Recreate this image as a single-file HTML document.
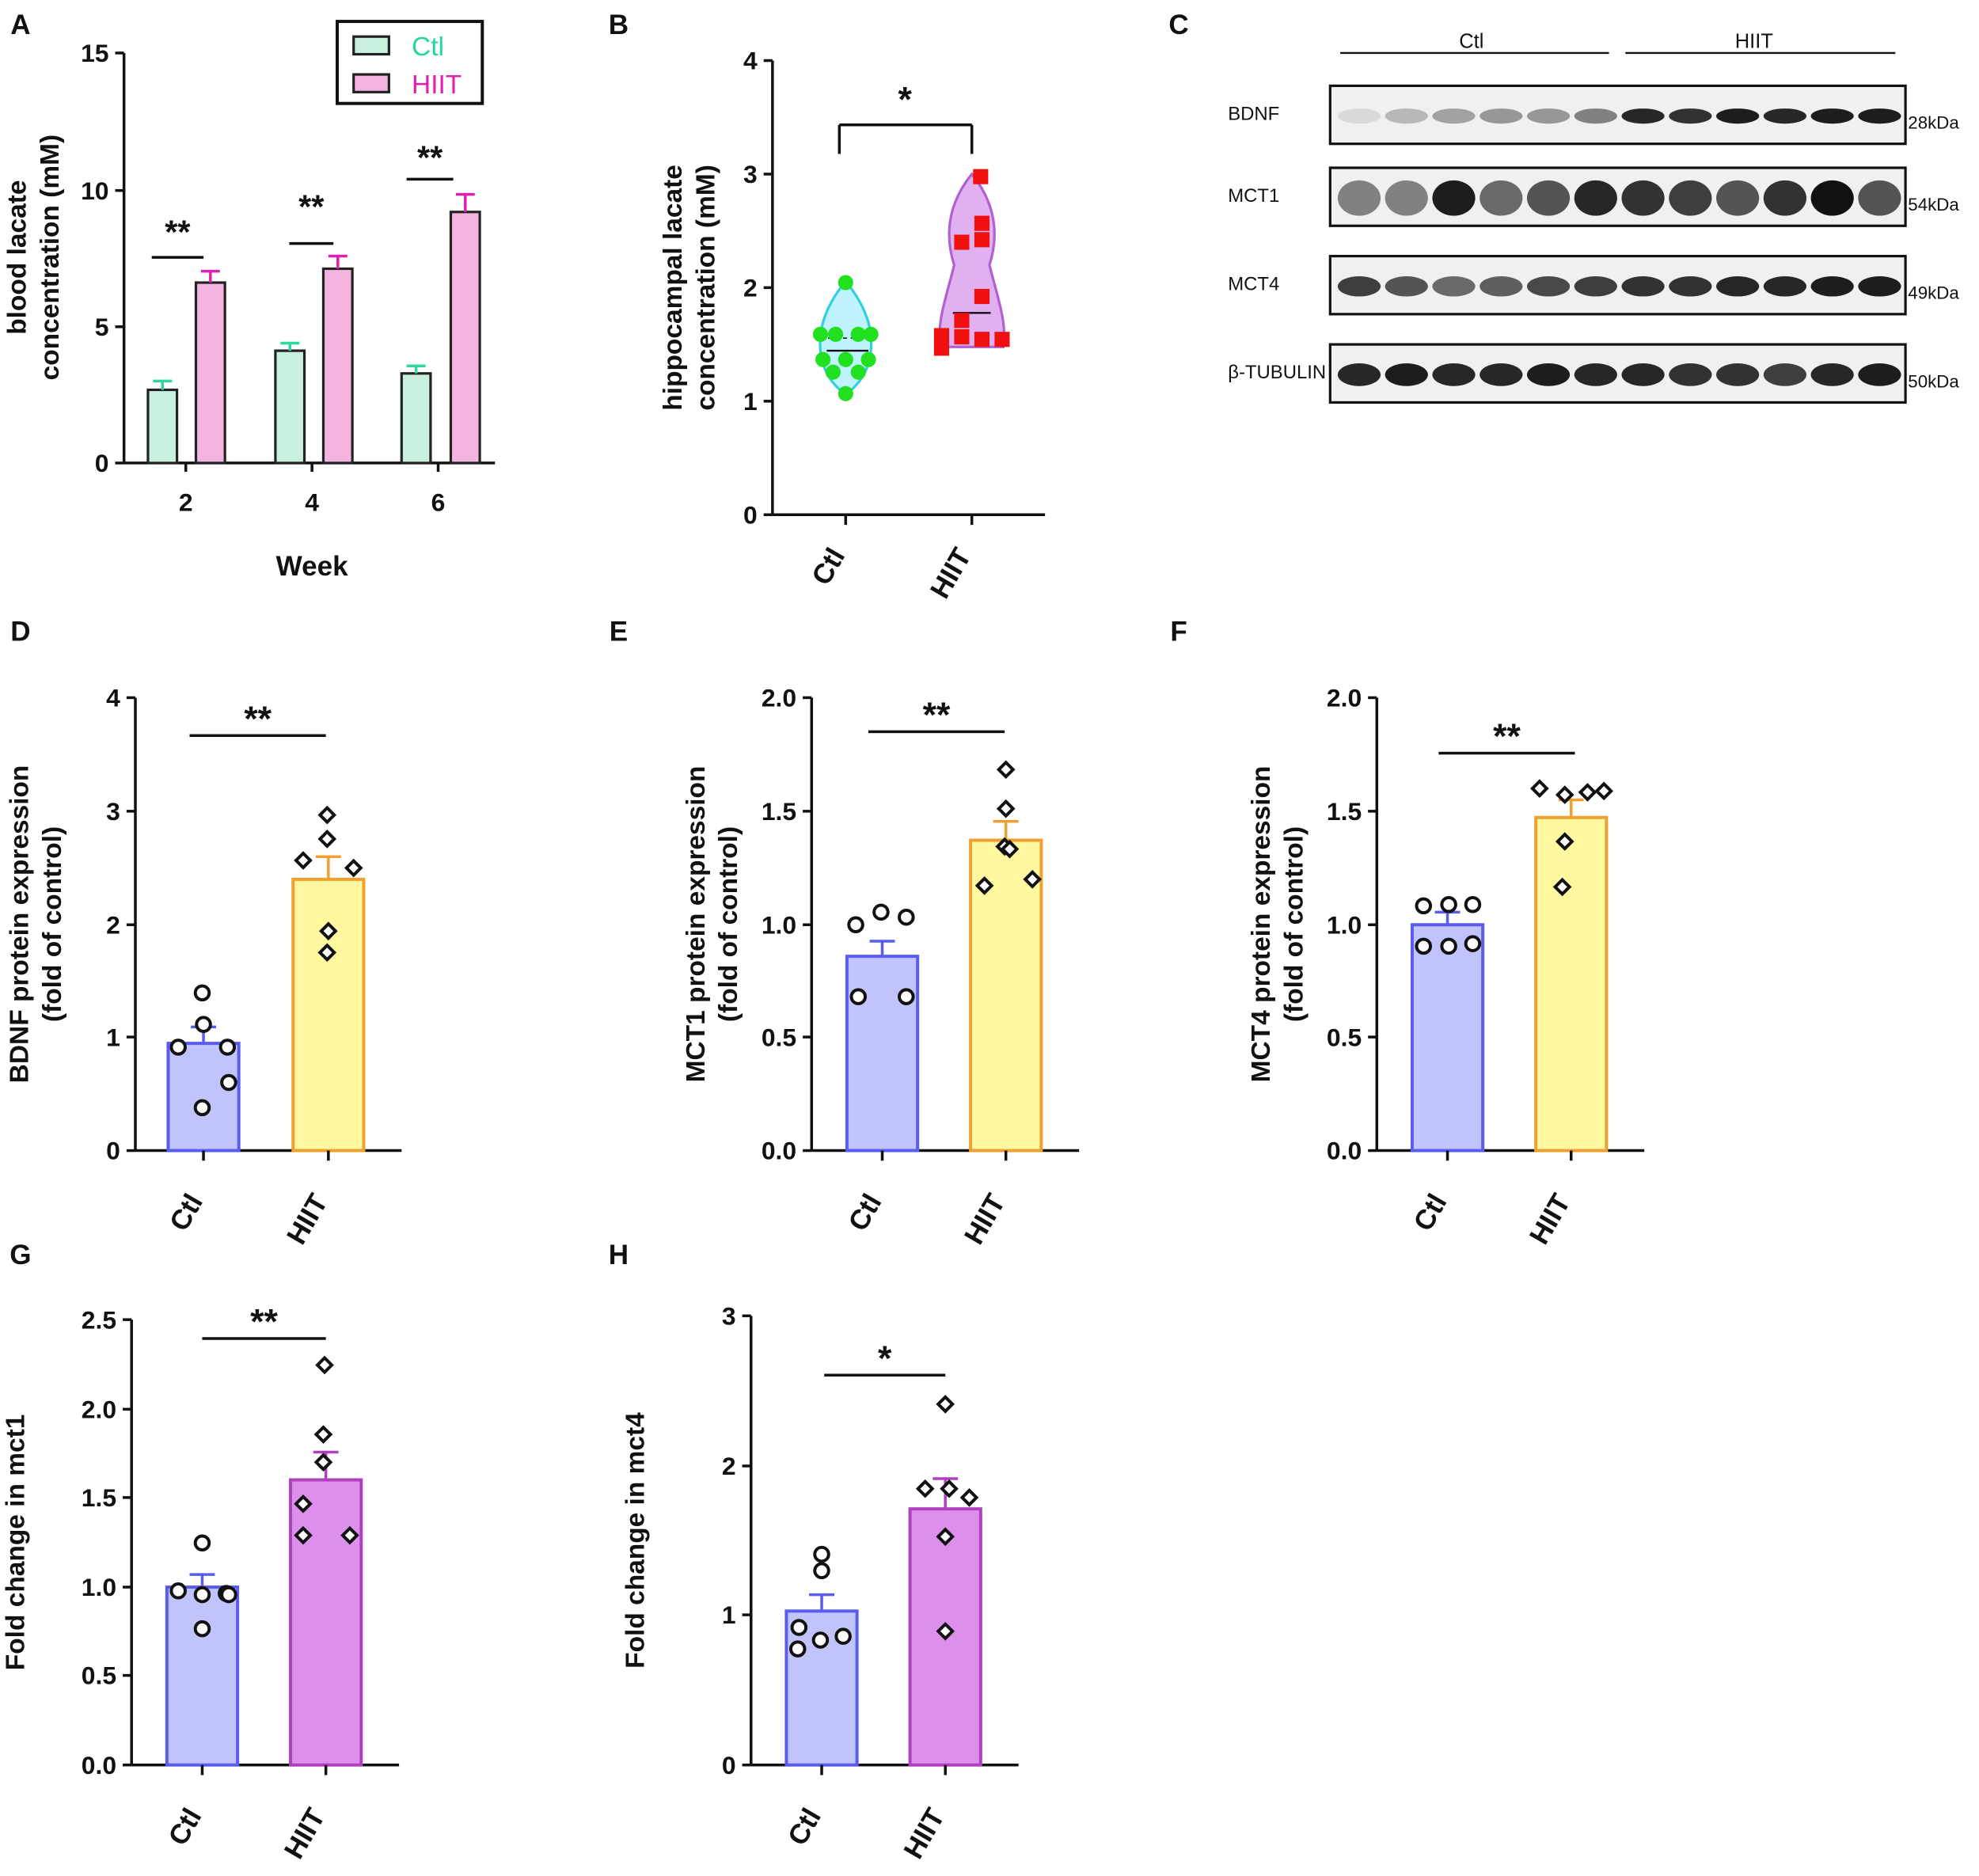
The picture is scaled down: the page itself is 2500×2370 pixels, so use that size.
<!DOCTYPE html>
<html><head><meta charset="utf-8"><style>
html,body{margin:0;padding:0;background:#fff;}
svg{display:block;font-family:"Liberation Sans",Arial,sans-serif;}
</style></head><body>
<svg id="s" width="2500" height="2370" viewBox="0 0 1568 1487" xmlns="http://www.w3.org/2000/svg">
<rect width="1568" height="1487" fill="#fff"/>
</svg>
<script>
const S=document.getElementById('s');let h='';
function t(x,y,s,o={}){h+=`<text x="${x}" y="${y}" font-size="${o.fs||20}" font-weight="${o.fw||'bold'}" fill="${o.c||'#111'}" text-anchor="${o.a||'middle'}" ${o.r!=null?`transform="rotate(${o.r} ${x} ${y})"`:''}>${s}</text>`;}
function l(x1,y1,x2,y2,c='#111',w=2.2){h+=`<line x1="${x1}" y1="${y1}" x2="${x2}" y2="${y2}" stroke="${c}" stroke-width="${w}"/>`;}
function r(x,y,w,hh,f,st,sw=2.5){h+=`<rect x="${x}" y="${y}" width="${w}" height="${hh}" fill="${f}" stroke="${st}" stroke-width="${sw}"/>`;}
function axes(ax,y0,ytop,xend,ticks){l(ax,ytop,ax,y0);l(ax,y0,xend,y0);
 ticks.forEach(([v,y])=>{l(ax-7,y,ax,y);t(ax-12,y+7,v,{a:'end'});});}
[['A',16,27],['B',490,27],['C',934,27],['D',16,508],['E',490,508],['F',934,508],['G',16,1002],['H',490,1002]].forEach(p=>t(p[1],p[2],p[0],{fs:22}));
// Panel A
axes(98,367,42,392,[['0',367],['5',259],['10',151],['15',42]]);
[[147],[247],[347]].forEach(([x],i)=>{l(x,367,x,374);t(x,405,['2','4','6'][i]);});
t(247,456,'Week',{fs:22});
t(20,204,'blood lacate',{fs:21,r:-90});t(46,204,'concentration (mM)',{fs:21,r:-90});
const A=[[117,309,155,224,302,215],[218,278,256,213,272,203],[318,296,357,168,290,154]];
A.forEach(([x1,y1,x2,y2,e1,e2])=>{r(x1,y1,23,367-y1,'#c8f0dc','#222',2);r(x2,y2,23,367-y2,'#f4b4e0','#222',2);
 l(x1+11.5,y1,x1+11.5,e1,'#2fd6a0');l(x1+4,e1,x1+19,e1,'#2fd6a0');
 l(x2+11.5,y2,x2+11.5,e2,'#e020b0');l(x2+4,e2,x2+19,e2,'#e020b0');});
[[120,161,204,185],[229,264,193,165],[322,359,142,126]].forEach(([a,b,y,sy])=>{l(a,y,b,y);t((a+b)/2,sy+8,'**',{fs:26});});
r(267,17,115,65,'#fff','#111',2.5);
r(280,29,28,14,'#c8f0dc','#222',2);r(280,59,28,14,'#f4b4e0','#222',2);
t(326,44,'Ctl',{fs:21,fw:'normal',c:'#20d8a0',a:'start'});t(326,74,'HIIT',{fs:21,fw:'normal',c:'#e020b0',a:'start'});
// Panel B
axes(612,408,48,828,[['0',408],['1',318],['2',228],['3',138],['4',48]]);
l(670,408,670,416);l(770,408,770,416);
t(670,440,'Ctl',{fs:22,r:-60,a:'end'});t(770,440,'HIIT',{fs:22,r:-60,a:'end'});
t(540,228,'hippocampal lacate',{fs:21,r:-90});t(566,228,'concentration (mM)',{fs:21,r:-90});
h+=`<path d="M670 223 C656 240 648 258 650 278 C652 296 660 305 670 313 C680 305 688 296 690 278 C692 258 684 240 670 223Z" fill="#bff3ff" stroke="#30d0e0" stroke-width="2"/>`;
h+=`<path d="M770 138 C752 160 748 185 756 210 C750 235 742 255 745 275 L795 275 C798 255 790 235 784 210 C792 185 788 160 770 138Z" fill="#e0b0f0" stroke="#b060d0" stroke-width="2"/>`;
l(655,278,688,278,'#111',1.5);l(755,248,785,248,'#111',1.5);
h+=`<line x1="656" y1="268" x2="688" y2="268" stroke="#111" stroke-dasharray="3,3"/>`;
[[670,224],[650,265],[662,265],[680,265],[690,265],[652,285],[670,285],[688,285],[660,295],[680,295],[670,312]].forEach(([x,y])=>h+=`<circle cx="${x}" cy="${y}" r="6" fill="#20e020"/>`);
[[777,140],[762,192],[778,177],[778,190],[778,235],[746,266],[746,276],[762,267],[778,269],[794,269],[762,254]].forEach(([x,y])=>h+=`<rect x="${x-6}" y="${y-6}" width="12" height="12" fill="#f01010"/>`);
l(665,122,665,99);l(665,99,770,99);l(770,99,770,122);t(717,88,'*',{fs:28});
// Panel C
l(1062,42,1275,42,'#111',1.5);l(1288,42,1502,42,'#111',1.5);
t(1166,38,'Ctl',{fs:16,fw:'normal'});t(1390,38,'HIIT',{fs:16,fw:'normal'});
const rows=[[68,'BDNF','28kDa',[.1,.25,.35,.4,.4,.5,.9,.85,.95,.9,.95,.95],6],[133,'MCT1','54kDa',[.5,.5,.95,.6,.7,.9,.85,.8,.7,.85,1,.7],14],[203,'MCT4','49kDa',[.8,.7,.6,.65,.75,.8,.85,.85,.9,.9,.95,.95],8],[273,'β-TUBULIN','50kDa',[.9,.95,.9,.9,.95,.9,.9,.85,.85,.8,.9,.95],9]];
rows.forEach(([y,n,k,v,bh])=>{r(1054,y,456,46,'#f0f0f0','#111',2);
 t(973,y+27,n,{fs:15,fw:'normal',a:'start'});t(1512,y+34,k,{fs:14,fw:'normal',a:'start'});
 v.forEach((a,i)=>{const cx=1077+i*37.5;h+=`<ellipse cx="${cx}" cy="${y+24}" rx="17" ry="${bh}" fill="#111" opacity="${a}"/>`;});});
function bp(ax,y0,ytop,xend,ticks,b1,b2,c2,st2,e1,e2,pts1,pts2,sig,sx1,sx2,sy,ylab){
 axes(ax,y0,ytop,xend,ticks);
 const [x1,h1]=b1,[x2,h2]=b2;
 r(x1,h1,56,y0-h1,'#c0c4fa','#5a5cf0');r(x2,h2,56,y0-h2,c2,st2);
 l(x1+28,h1,x1+28,e1,'#5a5cf0');l(x1+18,e1,x1+38,e1,'#5a5cf0');
 l(x2+28,h2,x2+28,e2,st2);l(x2+18,e2,x2+38,e2,st2);
 [x1+28,x2+28].forEach((x,i)=>{l(x,y0,x,y0+8);t(x,y0+40,i?'HIIT':'Ctl',{fs:22,r:-60,a:'end'});});
 pts1.forEach(([x,y])=>h+=`<circle cx="${x}" cy="${y}" r="5.5" fill="#fff" stroke="#111" stroke-width="2.5"/>`);
 pts2.forEach(([x,y])=>h+=`<rect x="${x-4}" y="${y-4}" width="8" height="8" fill="#fff" stroke="#111" stroke-width="2.5" transform="rotate(45 ${x} ${y})"/>`);
 l(sx1,sy,sx2,sy);t((sx1+sx2)/2,sy-4,sig,{fs:28});
 t(ax-85,(y0+ytop)/2,ylab[0],{fs:21,r:-90});if(ylab[1])t(ax-59,(y0+ytop)/2,ylab[1],{fs:21,r:-90});
}
bp(107,912,553,318,[['0',912],['1',822],['2',733],['3',643],['4',553]],[133,827],[232,697],'#fff8a0','#f0a030',814,679,
 [[160,787],[141,830],[161,812],[180,830],[181,858],[160,878]],[[259,646],[240,682],[280,688],[259,665],[260,738],[259,755]],'**',150,258,583,['BDNF protein expression','(fold of control)']);
bp(643,912,553,855,[['0.0',912],['0.5',822],['1.0',733],['1.5',643],['2.0',553]],[671,758],[769,666],'#fff8a0','#f0a030',746,651,
 [[678,733],[698,723],[718,727],[680,790],[718,790]],[[797,610],[797,641],[796,671],[780,702],[818,697],[800,673]],'**',688,796,580,['MCT1 protein expression','(fold of control)']);
bp(1091,912,553,1303,[['0.0',912],['0.5',822],['1.0',733],['1.5',643],['2.0',553]],[1119,733],[1217,648],'#fff8a0','#f0a030',723,634,
 [[1128,718],[1148,717],[1167,717],[1128,750],[1148,750],[1167,748]],[[1220,625],[1240,630],[1258,628],[1271,627],[1240,667],[1238,703]],'**',1140,1248,597,['MCT4 protein expression','(fold of control)']);
bp(104,1399,1046,316,[['0.0',1399],['0.5',1328],['1.0',1258],['1.5',1187],['2.0',1117],['2.5',1046]],[132,1258],[230,1173],'#dc90ec','#b040c0',1248,1151,
 [[160,1223],[141,1261],[160,1264],[179,1263],[181,1264],[160,1291]],[[257,1082],[256,1137],[256,1159],[240,1192],[277,1217],[240,1217]],'**',160,258,1061,['Fold change in mct1']);
bp(595,1399,1043,807,[['0',1399],['1',1280],['2',1162],['3',1043]],[623,1277],[721,1196],'#dc90ec','#b040c0',1264,1172,
 [[651,1232],[651,1245],[633,1290],[650,1300],[668,1297],[632,1307]],[[749,1113],[733,1180],[752,1180],[768,1187],[749,1218],[749,1293]],'*',653,749,1090,['Fold change in mct4']);
S.innerHTML+=h;
</script>
</body></html>
